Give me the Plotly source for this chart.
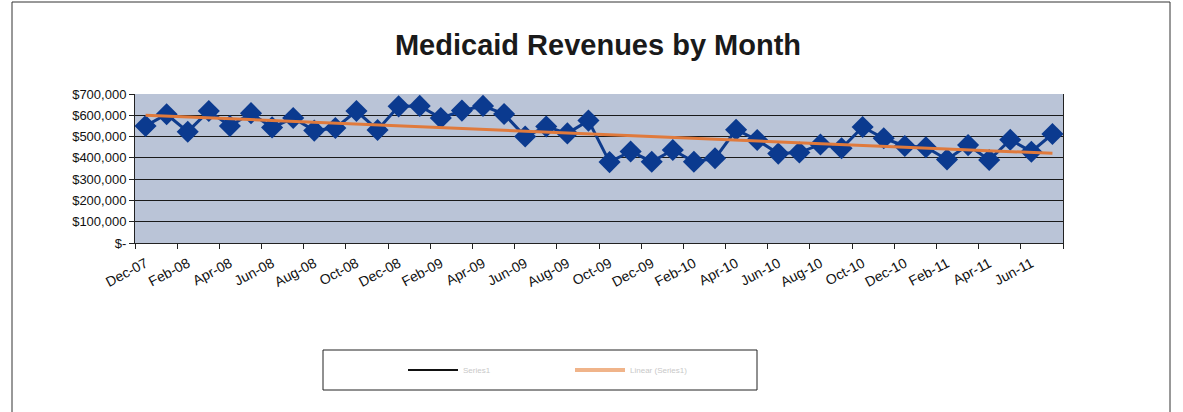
import numpy as np
import plotly.graph_objects as go

# Monthly labels, Dec-07 .. Jul-11
months = ['Dec-07', 'Jan-08', 'Feb-08', 'Mar-08', 'Apr-08', 'May-08', 'Jun-08', 'Jul-08',
          'Aug-08', 'Sep-08', 'Oct-08', 'Nov-08', 'Dec-08', 'Jan-09', 'Feb-09', 'Mar-09',
          'Apr-09', 'May-09', 'Jun-09', 'Jul-09', 'Aug-09', 'Sep-09', 'Oct-09', 'Nov-09',
          'Dec-09', 'Jan-10', 'Feb-10', 'Mar-10', 'Apr-10', 'May-10', 'Jun-10', 'Jul-10',
          'Aug-10', 'Sep-10', 'Oct-10', 'Nov-10', 'Dec-10', 'Jan-11', 'Feb-11', 'Mar-11',
          'Apr-11', 'May-11', 'Jun-11', 'Jul-11']

revenues = [550000, 605000, 523000, 620000, 550000, 610000, 543000, 587000,
            528000, 540000, 620000, 531000, 642000, 644000, 587000, 622000,
            644000, 606000, 500000, 547000, 515000, 575000, 380000, 430000,
            382000, 437000, 382000, 398000, 532000, 484000, 420000, 425000,
            463000, 445000, 545000, 492000, 456000, 450000, 392000, 460000,
            390000, 485000, 429000, 512000]

ytick_vals = [0, 100000, 200000, 300000, 400000, 500000, 600000, 700000]
ytick_text = ['$-', '$100,000', '$200,000', '$300,000', '$400,000',
              '$500,000', '$600,000', '$700,000']

legend_names = ['Series1', 'Linear (Series1)']

# linear trendline, as Excel does
idx = np.arange(len(revenues))
slope, icpt = np.polyfit(idx, revenues, 1)
trend = slope * idx + icpt

# body margin is removed in the page, so figure px == screen px
W, H = 1183, 412
L, R, T, B = 135, 1183 - 1063, 94, 412 - 243
pw, ph = W - L - R, H - T - B


def px(x):
    return (x - L) / pw


def py(y):
    return 1 - (y - T) / ph


fig = go.Figure()

fig.add_trace(go.Scatter(x=months, y=revenues, mode='lines+markers',
                         line={'color': '#0e3b8c', 'width': 3},
                         marker={'symbol': 'diamond', 'size': 17, 'color': '#0b3a8f'},
                         showlegend=False))

fig.add_trace(go.Scatter(x=months, y=trend, mode='lines',
                         line={'color': '#e07a3c', 'width': 3},
                         showlegend=False))

# legend entries (line samples only)
fig.add_trace(go.Scatter(x=[None], y=[None], mode='lines', name=legend_names[0],
                         line={'color': '#111111', 'width': 2}))
fig.add_trace(go.Scatter(x=[None], y=[None], mode='lines', name=legend_names[1],
                         line={'color': '#f0b48a', 'width': 4}))

fig.layout.update(
    width=W, height=H,
    margin={'l': L, 'r': R, 't': T, 'b': B, 'autoexpand': False},
    paper_bgcolor='white',
    plot_bgcolor='#bac4d7',
    font={'family': 'Arial, Liberation Sans', 'color': '#111111'},
    title={'text': '<b>Medicaid Revenues by Month</b>',
           'x': 598 / W, 'xanchor': 'center',
           'y': 1 - 45 / H, 'yanchor': 'middle',
           'font': {'size': 29, 'color': '#1a1a1a'}},
    xaxis={'type': 'category', 'tickson': 'boundaries', 'dtick': 2,
           'ticks': 'outside', 'ticklen': 5, 'tickcolor': '#222',
           'tickangle': -28, 'tickfont': {'size': 14}, 'ticklabelstandoff': 6,
           'showgrid': False, 'showline': True, 'linecolor': '#222', 'linewidth': 1,
           'range': [-0.5, len(months) - 0.5]},
    yaxis={'range': [0, 700000], 'tickvals': ytick_vals, 'ticktext': ytick_text,
           'ticks': 'outside', 'ticklen': 5, 'tickcolor': '#222',
           'tickfont': {'size': 13},
           'showgrid': True, 'gridcolor': '#1a1a1a', 'gridwidth': 1,
           'zeroline': False, 'showline': True, 'linecolor': '#222', 'mirror': True},
    legend={'orientation': 'h', 'x': px(403), 'y': py(370), 'xanchor': 'left', 'yanchor': 'middle',
            'borderwidth': 0, 'bgcolor': 'rgba(0,0,0,0)',
            'entrywidth': 102, 'itemwidth': 50,
            'font': {'size': 8, 'color': '#c8c8c8'}},
    showlegend=True,
)

# legend frame
fig.add_shape(type='rect', xref='paper', yref='paper',
              x0=px(323), x1=px(757), y0=py(390), y1=py(350),
              line={'color': '#222', 'width': 1})

# outer chart frame (bottom edge runs off the page)
fig.add_shape(type='rect', xref='paper', yref='paper',
              x0=px(12), x1=px(1170), y0=py(416), y1=py(2),
              line={'color': '#333', 'width': 1})

fig.write_html('out.html', config={'displayModeBar': False},
               post_script="document.body.style.margin='0';document.body.style.overflow='hidden';")
